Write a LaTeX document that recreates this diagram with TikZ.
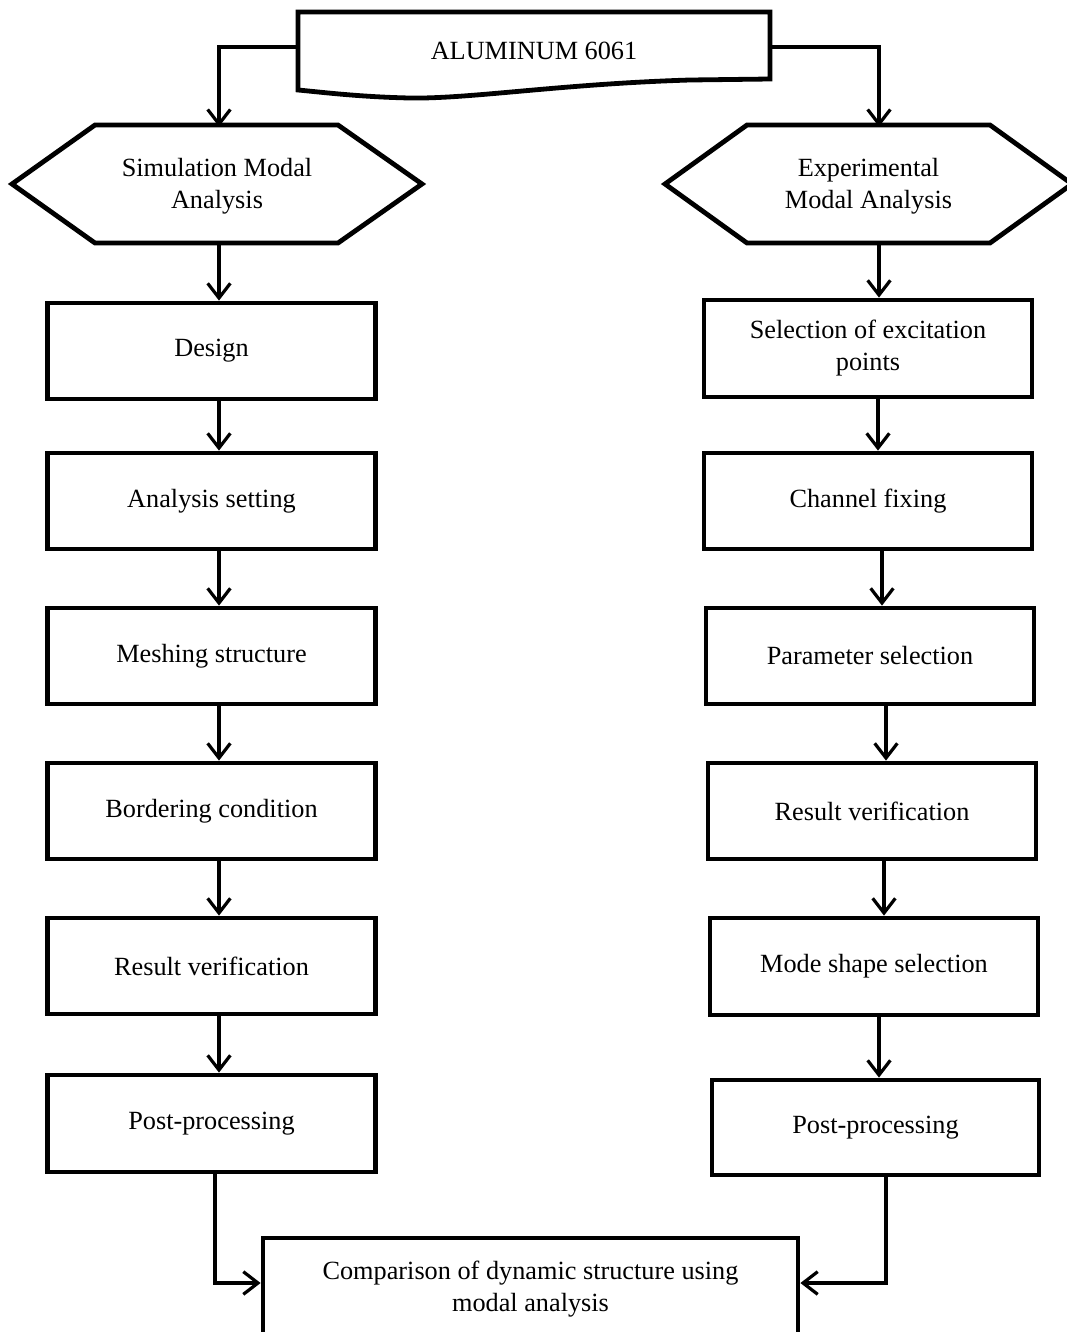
\documentclass[tikz,border=0pt]{standalone}
\usepackage{fontspec}
\setmainfont{Liberation Serif}
\usetikzlibrary{arrows.meta,calc}
\begin{document}
\begin{tikzpicture}[x=0.75pt,y=-0.75pt,
  every node/.style={font=\fontsize{19.7}{24}\selectfont, align=center, inner sep=0pt},
  stepbox/.style={draw, line width=3.6pt, minimum width=328*0.75pt, minimum height=96*0.75pt},
  shapeline/.style={line width=3.6pt, line join=miter},
  arr/.style={line width=2.4pt, -{Straight Barb[length=11pt,width=17pt]}}
]
\useasboundingbox (0,0) rectangle (1067,1332);
% top document shape
\node[minimum width=472*0.75pt, minimum height=78*0.75pt] (doc) at (534,51) {ALUMINUM 6061};
\draw[shapeline] (298,12) -- (770,12) -- (770,79) -- (690,80)
  .. controls (560,84) and (470,99) .. (410,98)
  .. controls (360,97) and (320,92) .. (298,90) -- cycle;

% hexagons
\node[minimum width=410*0.75pt, minimum height=118*0.75pt] (hexL) at (217,186) {Simulation Modal\\Analysis};
\draw[shapeline] (12,184) -- (95,125) -- (338,125) -- (422,184) -- (338,243) -- (95,243) -- cycle;
\node[minimum width=407*0.75pt, minimum height=118*0.75pt] (hexR) at (868.5,186) {Experimental\\Modal Analysis};
\draw[shapeline] (665,184) -- (747,125) -- (990,125) -- (1072,184) -- (990,243) -- (747,243) -- cycle;

% left column
\node[stepbox] (design) at (211.5,351) {Design};
\node[stepbox] (anal) at (211.5,501) {Analysis setting};
\node[stepbox] (mesh) at (211.5,656) {Meshing structure};
\node[stepbox] (border) at (211.5,811) {Bordering condition};
\node[stepbox] (resL) at (211.5,966) {Result verification};
\node[stepbox, minimum height=97*0.75pt] (postL) at (211.5,1123.5) {Post-processing};

% right column
\node[stepbox, minimum height=97*0.75pt] (sel) at (868,348.5) {Selection of excitation\\points};
\node[stepbox] (chan) at (868,501) {Channel fixing};
\node[stepbox] (param) at (870,656) {Parameter selection};
\node[stepbox] (resR) at (872,811) {Result verification};
\node[stepbox, minimum height=97*0.75pt] (mode) at (874,966.5) {Mode shape selection};
\node[stepbox, minimum width=327*0.75pt, minimum height=95*0.75pt] (postR) at (875.5,1127.5) {Post-processing};

% bottom box
\node[stepbox, minimum width=535*0.75pt, minimum height=120*0.75pt] (final) at (530.5,1298) {};
\node (finaltxt) at (530.5,1289) {Comparison of dynamic structure using\\modal analysis};

% column coordinates
\coordinate (cL) at (219,0);
\coordinate (cR1) at (879,0);
\coordinate (cR2) at (878,0);
\coordinate (cR3) at (882,0);
\coordinate (cR4) at (886,0);
\coordinate (cR5) at (884,0);
\coordinate (cR6) at (879,0);
\coordinate (cLb) at (215,0);
\coordinate (cRb) at (886,0);
\coordinate (ytop) at (0,47);
\coordinate (ybot) at (0,1283);

% connectors from document
\draw[arr] (doc.west |- ytop) -| (hexL.north -| cL);
\draw[arr] (doc.east |- ytop) -| (hexR.north -| cR1);

% left column arrows
\draw[arr] (hexL.south -| cL) -- (design.north -| cL);
\draw[arr] (design.south -| cL) -- (anal.north -| cL);
\draw[arr] (anal.south -| cL) -- (mesh.north -| cL);
\draw[arr] (mesh.south -| cL) -- (border.north -| cL);
\draw[arr] (border.south -| cL) -- (resL.north -| cL);
\draw[arr] (resL.south -| cL) -- (postL.north -| cL);

% right column arrows
\draw[arr] (hexR.south -| cR1) -- (sel.north -| cR1);
\draw[arr] (sel.south -| cR2) -- (chan.north -| cR2);
\draw[arr] (chan.south -| cR3) -- (param.north -| cR3);
\draw[arr] (param.south -| cR4) -- (resR.north -| cR4);
\draw[arr] (resR.south -| cR5) -- (mode.north -| cR5);
\draw[arr] (mode.south -| cR6) -- (postR.north -| cR6);

% to the bottom box
\draw[arr] (postL.south -| cLb) |- (final.west |- ybot);
\draw[arr] (postR.south -| cRb) |- (final.east |- ybot);
\end{tikzpicture}
\end{document}
